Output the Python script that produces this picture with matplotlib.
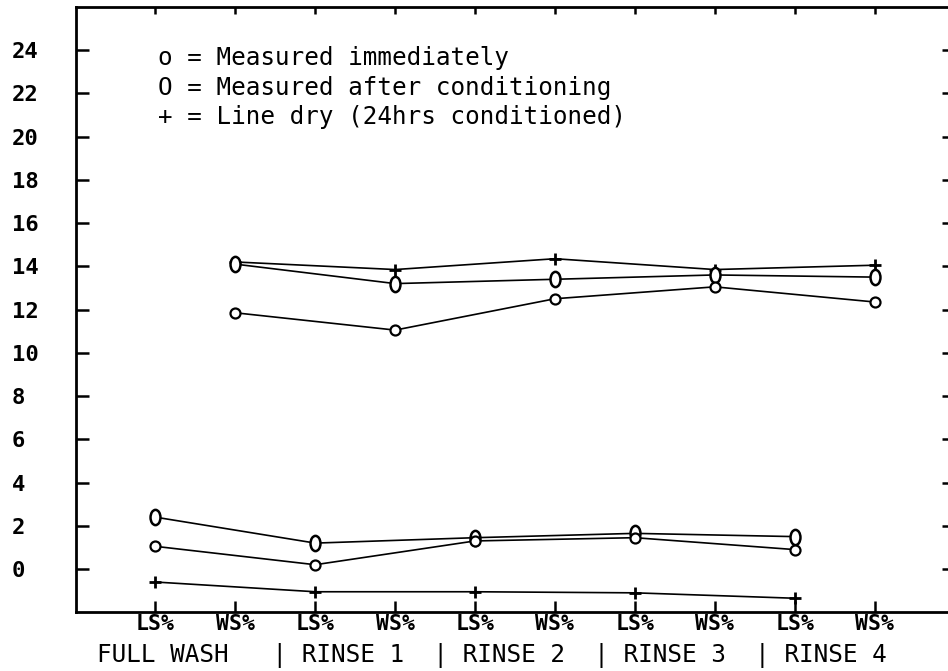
import numpy as np
import matplotlib
matplotlib.use("Agg")
import matplotlib.pyplot as plt
from matplotlib.path import Path

# Tick categories along the x axis (loss / width shrinkage after each stage)
categories = ["LS%", "WS%", "LS%", "WS%", "LS%", "WS%", "LS%", "WS%", "LS%", "WS%"]
stage_row = "FULL WASH   | RINSE 1  | RINSE 2  | RINSE 3  | RINSE 4"
y_ticks = list(range(0, 25, 2))

# Length shrinkage (LS%) per stage
ls_immediate = [1.05, 0.2, 1.3, 1.45, 0.9]
ls_conditioned = [2.4, 1.2, 1.45, 1.65, 1.5]
ls_linedry = [-0.6, -1.05, -1.05, -1.1, -1.35]

# Width shrinkage (WS%) per stage
ws_immediate = [11.85, 11.05, 12.5, 13.05, 12.35]
ws_conditioned = [14.1, 13.2, 13.4, 13.6, 13.5]
ws_linedry = [14.2, 13.85, 14.35, 13.85, 14.05]

legend_lines = [
    "o = Measured immediately",
    "O = Measured after conditioning",
    "+ = Line dry (24hrs conditioned)",
]

W, H = 948, 671
fig = plt.figure(figsize=(W / 100, H / 100), dpi=100)
ax = fig.add_axes([75.5 / W, (H - 612.3) / H, (954.5 - 75.5) / W, (612.3 - 6.8) / H])

ls_x = np.arange(0, len(categories), 2)
ws_x = np.arange(1, len(categories), 2)

circ = Path.unit_circle()
oval = Path(circ.vertices * np.array([0.65, 1.0]), circ.codes)

line_kw = dict(color="black", lw=1.2)
small_o = dict(marker="o", ms=7.2, mfc="white", mec="black", mew=1.6)
big_o = dict(marker=oval, ms=11, mfc="white", mec="black", mew=1.8)
plus = dict(marker="+", ms=8, mec="black", mew=2.0)

for xs, imm, cond, dry in [(ls_x, ls_immediate, ls_conditioned, ls_linedry),
                           (ws_x, ws_immediate, ws_conditioned, ws_linedry)]:
    ax.plot(xs, dry, **line_kw, **plus, zorder=3)
    ax.plot(xs, cond, **line_kw, **big_o, zorder=4)
    ax.plot(xs, imm, **line_kw, **small_o, zorder=5)

ax.set_xlim(-1, 10)
ax.set_ylim(-2, 26)

for side in ["left", "bottom", "top", "right"]:
    ax.spines[side].set_linewidth(2.0)

ax.set_yticks(y_ticks)
ax.set_yticklabels([str(v) for v in y_ticks])
ax.tick_params(axis="y", which="both", direction="in", length=9, width=1.8,
               left=True, right=True, pad=46, labelsize=16)
for lab in ax.get_yticklabels():
    lab.set_horizontalalignment("left")
    lab.set_fontfamily("DejaVu Sans Mono")
    lab.set_fontweight("bold")

ax.set_xticks(np.arange(len(categories)))
ax.set_xticklabels(categories)
ax.tick_params(axis="x", which="both", direction="in", bottom=True, top=True,
               width=1.8, pad=1.5, labelsize=15.5)
ax.tick_params(axis="x", which="major", length=8)
for lab in ax.get_xticklabels():
    lab.set_fontfamily("DejaVu Sans Mono")
    lab.set_fontweight("bold")
# shorter ticks along the top edge
for t in ax.xaxis.get_major_ticks():
    t.tick2line.set_markersize(5)

mono = dict(family="DejaVu Sans Mono", color="black", va="center", ha="left")
for i, txt in enumerate(legend_lines):
    fig.text(158 / W, 1 - (58 + 29.5 * i) / H, txt, fontsize=17.5, **mono)

fig.text(97 / W, 1 - 655 / H, stage_row, fontsize=17.6, **mono)

fig.savefig("out.png", dpi=100, facecolor="white")
